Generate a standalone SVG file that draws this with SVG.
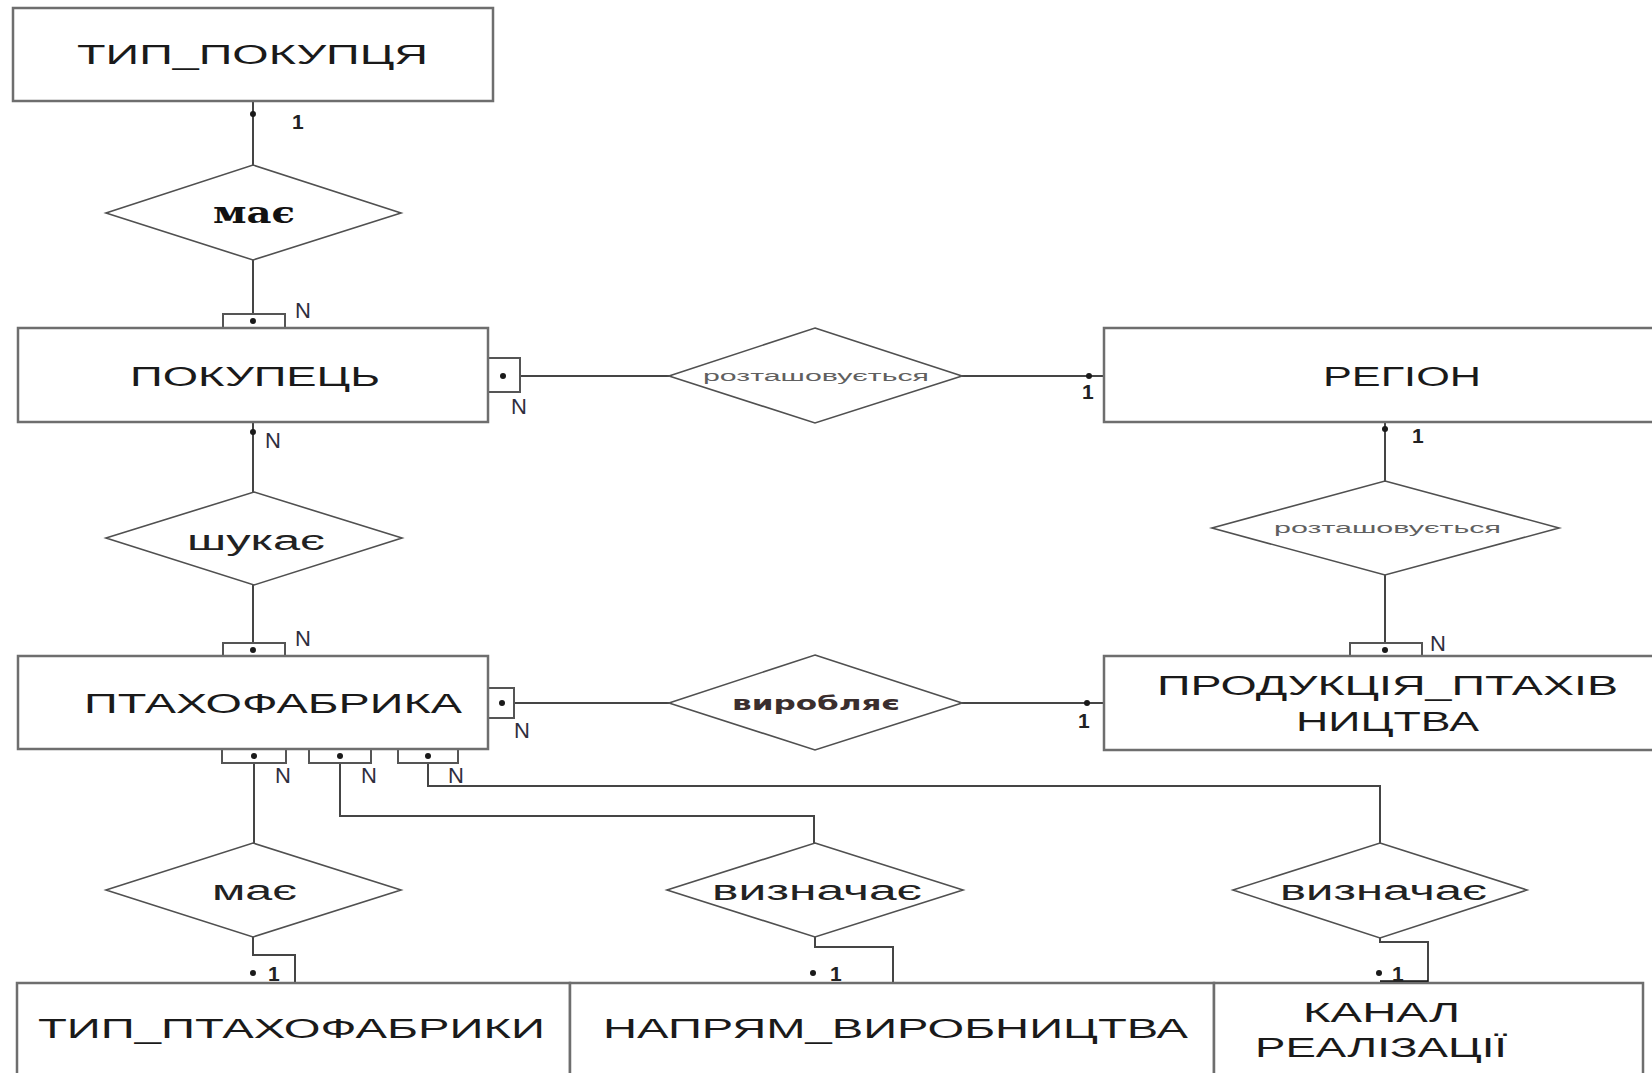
<svg xmlns="http://www.w3.org/2000/svg" width="1652" height="1073" viewBox="0 0 1652 1073">
<style>
.ent{fill:#fff;stroke:#6e6e6e;stroke-width:2.5}
.rel{fill:#fff;stroke:#505050;stroke-width:1.6}
.nb{fill:#fff;stroke:#555;stroke-width:2}
.ln{fill:none;stroke:#454545;stroke-width:2}
.dot{fill:#1a1a1a}
.t{font-family:"Liberation Sans","DejaVu Sans",sans-serif;font-size:27px;fill:#1a1a1a}
.rt{font-family:"Liberation Sans","DejaVu Sans",sans-serif;font-size:27px;fill:#222}
.sm{font-family:"Liberation Sans","DejaVu Sans",sans-serif;font-size:14px;fill:#606060}
.vb{font-family:"DejaVu Sans","Liberation Sans",sans-serif;font-size:19px;font-weight:bold;fill:#3a2e2e}
.mb{font-family:"DejaVu Serif","Liberation Serif",serif;font-size:29px;font-weight:bold;fill:#111}
.lb{font-family:"Liberation Sans","DejaVu Sans",sans-serif;font-size:22px;fill:#2e2e3e}
.one{font-family:"Liberation Sans","DejaVu Sans",sans-serif;font-size:21px;fill:#222;font-weight:bold}
</style>
<rect width="1652" height="1073" fill="#fff"/>

<g id="connectors">
  <line class="ln" x1="253" y1="101" x2="253" y2="165"/>
  <circle class="dot" cx="253" cy="114" r="3"/>
  <line class="ln" x1="253" y1="260" x2="253" y2="314"/>
  <line class="ln" x1="520" y1="376" x2="669" y2="376"/>
  <line class="ln" x1="962" y1="376" x2="1104" y2="376"/>
  <circle class="dot" cx="1089" cy="376" r="3"/>
  <line class="ln" x1="1385" y1="422" x2="1385" y2="481"/>
  <circle class="dot" cx="1385" cy="429" r="3"/>
  <line class="ln" x1="1385" y1="575" x2="1385" y2="643"/>
  <line class="ln" x1="253" y1="422" x2="253" y2="492"/>
  <circle class="dot" cx="253" cy="432" r="3"/>
  <line class="ln" x1="253" y1="585" x2="253" y2="643"/>
  <line class="ln" x1="514" y1="703" x2="669" y2="703"/>
  <line class="ln" x1="962" y1="703" x2="1104" y2="703"/>
  <circle class="dot" cx="1087" cy="703" r="3"/>
  <line class="ln" x1="254" y1="763" x2="254" y2="843"/>
  <polyline class="ln" points="253,937 253,955 295,955 295,983"/>
  <circle class="dot" cx="253" cy="973" r="3"/>
  <polyline class="ln" points="340,763 340,816 814,816 814,843"/>
  <polyline class="ln" points="815,937 815,947 893,947 893,983"/>
  <circle class="dot" cx="813" cy="973" r="3"/>
  <polyline class="ln" points="428,763 428,786 1380,786 1380,843"/>
  <polyline class="ln" points="1380,938 1380,942 1428,942 1428,983"/>
  <line x1="1380" y1="982" x2="1428" y2="982" stroke="#111" stroke-width="3.5"/>
  <circle class="dot" cx="1379" cy="973" r="3"/>
  <line class="ln" x1="893" y1="1060" x2="893" y2="1073"/>

  <rect class="nb" x="223" y="314" width="62" height="14"/>
  <circle class="dot" cx="253" cy="321" r="3"/>
  <rect class="nb" x="488" y="358" width="32" height="34"/>
  <circle class="dot" cx="503" cy="376" r="3"/>
  <rect class="nb" x="1350" y="643" width="72" height="14"/>
  <circle class="dot" cx="1385" cy="650" r="3"/>
  <rect class="nb" x="223" y="643" width="62" height="14"/>
  <circle class="dot" cx="253" cy="650" r="3"/>
  <rect class="nb" x="488" y="688" width="26" height="30"/>
  <circle class="dot" cx="502" cy="703" r="3"/>
  <rect class="nb" x="222" y="749" width="64" height="14"/>
  <circle class="dot" cx="254" cy="756" r="3"/>
  <rect class="nb" x="309" y="749" width="62" height="14"/>
  <circle class="dot" cx="340" cy="756" r="3"/>
  <rect class="nb" x="398" y="749" width="60" height="14"/>
  <circle class="dot" cx="428" cy="756" r="3"/>

  <text class="one" x="292" y="129">1</text>
  <text class="lb" x="295" y="318">N</text>
  <text class="lb" x="511" y="414">N</text>
  <text class="one" x="1082" y="399">1</text>
  <text class="one" x="1412" y="443">1</text>
  <text class="lb" x="1430" y="651">N</text>
  <text class="lb" x="265" y="448">N</text>
  <text class="lb" x="295" y="646">N</text>
  <text class="lb" x="514" y="738">N</text>
  <text class="one" x="1078" y="728">1</text>
  <text class="lb" x="275" y="783">N</text>
  <text class="lb" x="361" y="783">N</text>
  <text class="lb" x="448" y="783">N</text>
  <text class="one" x="268" y="981">1</text>
  <text class="one" x="830" y="981">1</text>
  <text class="one" x="1392" y="981">1</text>
</g>

<g id="tip_pokuptsia">
  <rect class="ent" x="13" y="8" width="480" height="93"/>
  <text class="t" x="77" y="64" textLength="351" lengthAdjust="spacingAndGlyphs">ТИП_ПОКУПЦЯ</text>
</g>
<g id="maie1">
  <polygon class="rel" points="253,165 401,213 253,260 106,213"/>
  <text class="mb" x="213" y="223" textLength="82" lengthAdjust="spacingAndGlyphs">має</text>
</g>
<g id="pokupets">
  <rect class="ent" x="18" y="328" width="470" height="94"/>
  <text class="t" x="130" y="386" textLength="250" lengthAdjust="spacingAndGlyphs">ПОКУПЕЦЬ</text>
</g>
<g id="roztash1">
  <polygon class="rel" points="815,328 962,376 815,423 669,376"/>
  <text class="sm" x="703" y="381" textLength="226" lengthAdjust="spacingAndGlyphs">розташовується</text>
</g>
<g id="region">
  <rect class="ent" x="1104" y="328" width="560" height="94"/>
  <text class="t" x="1323" y="386" textLength="158" lengthAdjust="spacingAndGlyphs">РЕГІОН</text>
</g>
<g id="roztash2">
  <polygon class="rel" points="1385,481 1559,528 1385,575 1212,528"/>
  <text class="sm" x="1274" y="533" textLength="227" lengthAdjust="spacingAndGlyphs">розташовується</text>
</g>
<g id="shukaie">
  <polygon class="rel" points="254,492 402,538 254,585 106,538"/>
  <text class="rt" x="187" y="550" textLength="138" lengthAdjust="spacingAndGlyphs">шукає</text>
</g>
<g id="ptakhofabryka">
  <rect class="ent" x="18" y="656" width="470" height="93"/>
  <text class="t" x="84" y="713" textLength="378" lengthAdjust="spacingAndGlyphs">ПТАХОФАБРИКА</text>
</g>
<g id="vyrobliaie">
  <polygon class="rel" points="815,655 962,703 815,750 669,703"/>
  <text class="vb" x="732" y="710" textLength="168" lengthAdjust="spacingAndGlyphs">виробляє</text>
</g>
<g id="produktsiia">
  <rect class="ent" x="1104" y="656" width="560" height="94"/>
  <text class="t" x="1157" y="695" textLength="461" lengthAdjust="spacingAndGlyphs">ПРОДУКЦІЯ_ПТАХІВ</text>
  <text class="t" x="1296" y="731" textLength="183" lengthAdjust="spacingAndGlyphs">НИЦТВА</text>
</g>
<g id="maie2">
  <polygon class="rel" points="253,843 401,890 253,937 106,890"/>
  <text class="rt" x="212" y="900" textLength="85" lengthAdjust="spacingAndGlyphs">має</text>
</g>
<g id="vyznachaie1">
  <polygon class="rel" points="815,843 963,890 815,937 667,890"/>
  <text class="rt" x="712" y="900" textLength="210" lengthAdjust="spacingAndGlyphs">визначає</text>
</g>
<g id="vyznachaie2">
  <polygon class="rel" points="1380,843 1527,890 1380,938 1233,890"/>
  <text class="rt" x="1280" y="900" textLength="207" lengthAdjust="spacingAndGlyphs">визначає</text>
</g>
<g id="tip_ptakhofabryky">
  <rect class="ent" x="17" y="983" width="553" height="120"/>
  <text class="t" x="38" y="1038" textLength="507" lengthAdjust="spacingAndGlyphs">ТИП_ПТАХОФАБРИКИ</text>
</g>
<g id="napriam">
  <rect class="ent" x="570" y="983" width="644" height="120"/>
  <text class="t" x="603" y="1038" textLength="585" lengthAdjust="spacingAndGlyphs">НАПРЯМ_ВИРОБНИЦТВА</text>
</g>
<g id="kanal">
  <rect class="ent" x="1214" y="983" width="429" height="120"/>
  <text class="t" x="1303" y="1022" textLength="157" lengthAdjust="spacingAndGlyphs">КАНАЛ</text>
  <text class="t" x="1255" y="1057" textLength="252" lengthAdjust="spacingAndGlyphs">РЕАЛІЗАЦІЇ</text>
</g>
</svg>
